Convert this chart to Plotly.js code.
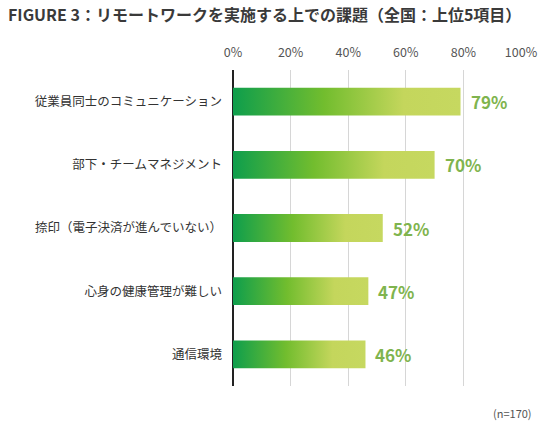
<!DOCTYPE html>
<html>
<head>
<meta charset="utf-8">
<script src="https://cdn.plot.ly/plotly-3.0.1.min.js"></script>
<style>
  body { margin: 0; background: #fff; }
  #chart { width: 550px; height: 428px; }
</style>
</head>
<body>
<div id="chart"></div>
<script>
const categories = [
  '従業員同士のコミュニケーション',
  '部下・チームマネジメント',
  '捺印（電子決済が進んでいない）',
  '心身の健康管理が難しい',
  '通信環境'
];
const values = [79, 70, 52, 47, 46];
const tickVals = [0, 20, 40, 60, 80, 100];
const tickLabels = ['0%', '20%', '40%', '60%', '80%', '100%'];
const sampleNote = '(n=170)';

const FONT = '"Noto Sans CJK JP", "Noto Sans", sans-serif';

var bars = {
  type: 'bar',
  orientation: 'h',
  x: values,
  y: categories,
  width: 0.44,
  marker: { color: '#6dbb30', line: { width: 0 } },
  hoverinfo: 'none'
};

// value labels right of each bar
var valueLabels = values.map((v, i) => ({
  x: v,
  y: categories[i],
  xref: 'x',
  yref: 'y',
  text: v + '%',
  showarrow: false,
  xanchor: 'left',
  xshift: 8,
  font: { family: FONT, size: 17, color: '#7fb44e', weight: 'bold' }
}));

var layout = {
  width: 550,
  height: 428,
  margin: { l: 233, r: 29, t: 70, b: 42 },
  paper_bgcolor: '#fff',
  plot_bgcolor: '#fff',
  showlegend: false,
  font: { family: FONT, color: '#333' },
  title: {
    text: 'FIGURE 3：リモートワークを実施する上での課題（全国：上位5項目）',
    font: { family: FONT, size: 16, color: '#3a3a3a', weight: 'bold' },
    xref: 'container', yref: 'container',
    x: 8 / 550, xanchor: 'left',
    y: 1 - 15 / 428, yanchor: 'middle'
  },
  xaxis: {
    side: 'top',
    range: [0, 100],
    tickmode: 'array',
    tickvals: tickVals,
    ticktext: tickLabels,
    showgrid: true,
    gridcolor: '#d6d6d6',
    gridwidth: 1,
    zeroline: true,
    zerolinecolor: '#222',
    zerolinewidth: 1.2,
    showline: false,
    ticks: '',
    ticklabelstandoff: 10,
    tickfont: { family: FONT, size: 12.5, color: '#555' },
    fixedrange: true
  },
  yaxis: {
    autorange: 'reversed',
    range: [4.5, -0.5],
    showgrid: false,
    zeroline: false,
    showline: false,
    ticks: '',
    ticklabelstandoff: 10,
    tickfont: { family: FONT, size: 12.5, color: '#333' },
    fixedrange: true
  },
  annotations: valueLabels.concat([{
    xref: 'paper', yref: 'paper',
    x: 1.045, y: -0.085,
    xanchor: 'right', yanchor: 'middle',
    text: sampleNote,
    showarrow: false,
    font: { family: FONT, size: 11, color: '#555' }
  }])
};

Plotly.newPlot('chart', [bars], layout, { staticPlot: true, displayModeBar: false }).then(function (gd) {
  // horizontal gradient for each bar
  var svg = gd.querySelector('svg.main-svg');
  var ns = 'http://www.w3.org/2000/svg';
  var defs = document.createElementNS(ns, 'defs');
  var grad = document.createElementNS(ns, 'linearGradient');
  grad.setAttribute('id', 'barGrad');
  grad.setAttribute('x1', '0'); grad.setAttribute('y1', '0');
  grad.setAttribute('x2', '1'); grad.setAttribute('y2', '0');
  [[0, '#0e9e4c'], [0.4, '#72bd2e'], [0.75, '#c4d65c'], [1, '#c6d860']].forEach(function (s) {
    var st = document.createElementNS(ns, 'stop');
    st.setAttribute('offset', s[0]);
    st.setAttribute('stop-color', s[1]);
    grad.appendChild(st);
  });
  defs.appendChild(grad);
  svg.insertBefore(defs, svg.firstChild);
  gd.querySelectorAll('.bars .point path').forEach(function (p) {
    p.style.fill = 'url(#barGrad)';
  });
});
</script>
</body>
</html>
